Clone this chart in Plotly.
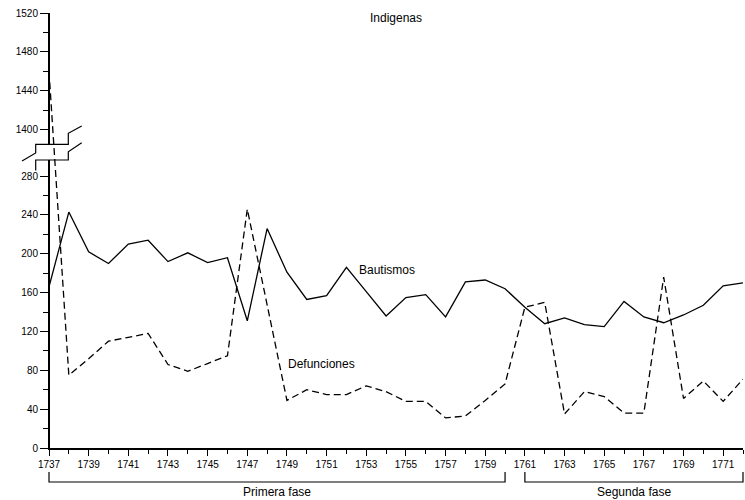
import plotly.graph_objects as go

# ---------------- data ----------------
years = list(range(1737, 1773))
bautismos = [166, 243, 202, 190, 210, 214, 192, 201, 191, 196, 131, 226, 181, 153, 157, 186,
             161, 136, 155, 158, 135, 171, 173, 164, 145, 128, 134, 127, 125, 151, 135, 129,
             137, 147, 167, 170]
defunciones = [1460, 75, 92, 110, 114, 118, 86, 79, 87, 95, 246, 148, 49, 60, 55, 55,
               64, 58, 48, 48, 31, 33, 49, 66, 145, 150, 35, 58, 53, 36, 36, 176,
               51, 69, 48, 71]
lower_ticks = [0, 40, 80, 120, 160, 200, 240, 280]
upper_ticks = [1400, 1440, 1480, 1520]
lower_minor = [20, 60, 100, 140, 180, 220, 260]
upper_minor = [1420, 1460, 1500]
x_labels = list(range(1737, 1772, 2))
phases = [("Primera fase", 1737, 1760), ("Segunda fase", 1761, 1772)]

# ---------------- broken y-axis mapping ----------------
LOWER_MAX = 300      # values up to here are drawn on the lower scale
UPPER_OFFSET = 1072  # upper-scale values are shifted down by this amount
Y_MAX = 448          # display value of 1520


def disp(v):
    return v if v <= LOWER_MAX else v - UPPER_OFFSET


X0, X1 = 1737, 1772
L, R, T, B = 49, 2, 13, 52
W, H = 745, 500
PW, PH = W - L - R, H - T - B


def px(xp):
    return (xp - L) / PW


def py(yp):
    return (H - B - yp) / PH


fig = go.Figure()
fig.add_trace(go.Scatter(x=years, y=[disp(v) for v in bautismos], mode="lines",
                         line=dict(color="black", width=1.3), name="Bautismos",
                         showlegend=False))
fig.add_trace(go.Scatter(x=years, y=[disp(v) for v in defunciones], mode="lines",
                         line=dict(color="black", width=1.3, dash="7px,4px"),
                         name="Defunciones", showlegend=False))

tickvals = [disp(v) for v in lower_ticks + upper_ticks]
ticktext = [str(v) for v in lower_ticks + upper_ticks]
minorvals = [disp(v) for v in lower_minor + upper_minor]

font = dict(family="Liberation Sans, Arial, sans-serif", color="black")

fig.update_layout(
    width=W, height=H, margin=dict(l=L, r=R, t=T, b=B),
    paper_bgcolor="white", plot_bgcolor="white",
    font=dict(**font, size=10),
    xaxis=dict(range=[X0, X1], showgrid=False, zeroline=False,
               showline=True, linecolor="black", linewidth=2,
               tickmode="array", tickvals=x_labels, ticktext=[str(v) for v in x_labels],
               ticks="outside", ticklen=6, tickwidth=1, tickcolor="black",
               tickfont=dict(size=10),
               minor=dict(tickmode="linear", tick0=1737, dtick=1, ticks="outside",
                          ticklen=4, tickwidth=1, tickcolor="black")),
    yaxis=dict(range=[0, Y_MAX], showgrid=False, zeroline=False, showline=False,
               tickmode="array", tickvals=tickvals, ticktext=ticktext,
               ticks="outside", ticklen=8, tickwidth=1, tickcolor="black",
               tickfont=dict(size=10),
               minor=dict(tickvals=minorvals, ticks="outside", ticklen=5,
                          tickwidth=1, tickcolor="black")),
)

shapes = []
# y-axis line in two pieces with the gap for the break
gap_lo, gap_hi = py(160), py(144.3)
shapes.append(dict(type="line", xref="paper", yref="paper", x0=0, x1=0, y0=py(450), y1=gap_lo,
                   line=dict(color="black", width=2)))
shapes.append(dict(type="line", xref="paper", yref="paper", x0=0, x1=0, y0=gap_hi, y1=1,
                   line=dict(color="black", width=2)))
# break symbol
top_pts = [(81.7, 126), (68.3, 133.3), (68.3, 144.3), (35.7, 144.3), (35.7, 153), (22, 161)]
bot_pts = [(81.7, 142.7), (68.3, 151.7), (68.3, 160), (35.7, 160), (35.7, 170.5)]
for pts in (top_pts, bot_pts):
    path = "M " + " L ".join(f"{px(a):.5f},{py(b):.5f}" for a, b in pts)
    shapes.append(dict(type="path", xref="paper", yref="paper", path=path,
                       line=dict(color="black", width=1.2)))
# phase brackets
for name, a, b in phases:
    xa, xb = (a - X0) / (X1 - X0), (b - X0) / (X1 - X0)
    path = f"M {xa},{py(472)} L {xa},{py(482)} L {xb},{py(482)} L {xb},{py(472)}"
    shapes.append(dict(type="path", xref="paper", yref="paper", path=path,
                       line=dict(color="black", width=1.2)))
fig.update_layout(shapes=shapes)

annotations = [
    dict(text="Indigenas", x=px(396), y=py(18)),
    dict(text="Bautismos", x=px(387), y=py(270)),
    dict(text="Defunciones", x=px(321.7), y=py(364)),
]
for name, a, b in phases:
    annotations.append(dict(text=name, x=((a + b) / 2 - X0) / (X1 - X0), y=py(492)))
for an in annotations:
    an.update(xref="paper", yref="paper", showarrow=False, xanchor="center",
              yanchor="middle", font=dict(**font, size=12))
fig.update_layout(annotations=annotations)

fig.write_html("out.html", config={"displayModeBar": False},
               post_script="document.body.style.margin='0';document.body.style.overflow='hidden';")
